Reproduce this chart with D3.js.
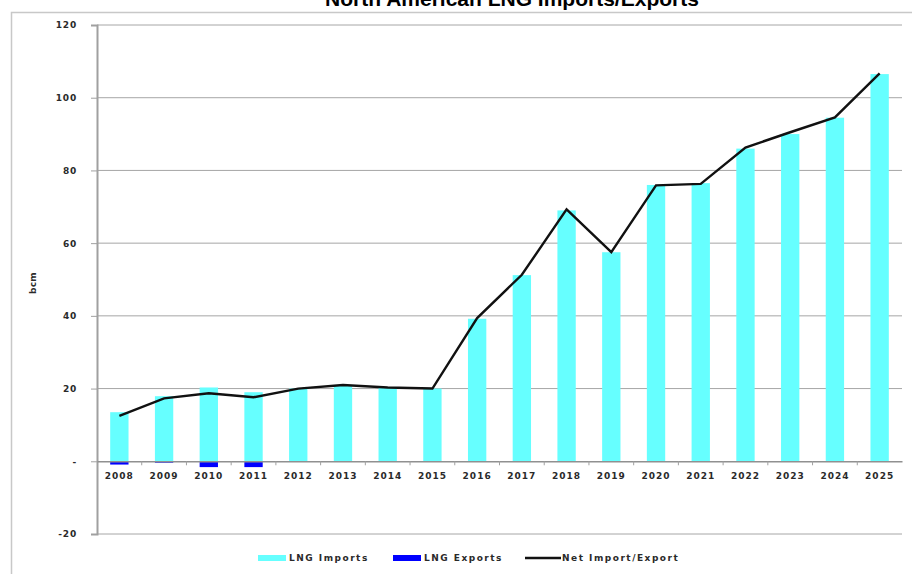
<!DOCTYPE html>
<html>
<head>
<meta charset="utf-8">
<script src="https://d3js.org/d3.v7.min.js"></script>
<style>
  body { margin: 0; background: #fff; }
  svg { display: block; }
</style>
</head>
<body>
<svg id="svg" width="912" height="574"></svg>
<script>
// data (bcm)
var years = ["2008","2009","2010","2011","2012","2013","2014","2015","2016",
             "2017","2018","2019","2020","2021","2022","2023","2024","2025"];
var imports = [13.5, 17.9, 20.3, 19.0, 20.0, 21.0, 20.2, 20.0, 39.2,
               51.2, 69.0, 57.5, 76.0, 76.5, 86.0, 90.0, 94.5, 106.5];
var exports = [-0.9, -0.4, -1.6, -1.6, 0, 0, 0, 0, 0,
               0, 0, 0, 0, 0, 0, 0, 0, 0];
var net = [12.5, 17.3, 18.7, 17.6, 20.0, 21.0, 20.3, 20.0, 39.4,
           51.3, 69.3, 57.5, 75.9, 76.3, 86.3, 90.5, 94.6, 106.7];
var yTicks = [-20, 0, 20, 40, 60, 80, 100, 120];
var legendItems = ["LNG Imports", "LNG Exports", "Net Import/Export"];

var svg = d3.select("#svg");
// note: "top" is taken by window.top, so use plot* names
var plotLeft = 97, plotRight = 902, plotTop = 25, plotBottom = 534;
var labelFont = "'DejaVu Sans', Verdana, sans-serif";

function styleLabel(sel, spacing) {
  sel.style("font-family", labelFont)
    .style("font-size", "9px")
    .style("font-weight", "bold")
    .style("letter-spacing", spacing + "px")
    .attr("fill", "#2a2a2a");
}

// outer chart border (only top and left are in frame)
svg.append("path")
  .attr("d", "M11.5,574 V12.5 H912")
  .attr("fill", "none")
  .attr("stroke", "#c8c8c8")
  .attr("stroke-width", 1.5);

// title, mostly cropped off the top
svg.append("text")
  .attr("x", 512)
  .attr("y", 6)
  .attr("text-anchor", "middle")
  .style("font-family", "'Liberation Sans', Arial, sans-serif")
  .style("font-weight", "bold")
  .style("font-size", "21px")
  .text("North American LNG Imports/Exports");

var x = d3.scaleBand().domain(years).range([plotLeft, plotRight]).paddingInner(0).paddingOuter(0);
var y = d3.scaleLinear().domain([-20, 120]).range([plotBottom, plotTop]);
var barW = x.bandwidth() * 0.41;

// gridlines
svg.append("g")
  .selectAll("line")
  .data(yTicks.filter(function(d) { return d !== 0; }))
  .enter().append("line")
  .attr("x1", plotLeft).attr("x2", plotRight)
  .attr("y1", function(d) { return y(d); })
  .attr("y2", function(d) { return y(d); })
  .attr("stroke", "#a6a6a6")
  .attr("stroke-width", 1);

// y axis
var yAxis = d3.axisLeft(y)
  .tickValues(yTicks)
  .tickSize(6)
  .tickPadding(14)
  .tickFormat(function(d) { return d === 0 ? "-" : d; });
var gy = svg.append("g").attr("transform", "translate(" + plotLeft + ",0)").call(yAxis);
gy.select(".domain").attr("stroke", "#a0a0a0").attr("stroke-width", 2);
gy.selectAll(".tick line").attr("stroke", "#a0a0a0");
gy.selectAll("text").call(styleLabel, 0.8);

svg.append("text")
  .attr("transform", "translate(36,283) rotate(-90)")
  .attr("text-anchor", "middle")
  .call(styleLabel, 0.3)
  .text("bcm");

// bars
svg.append("g").selectAll("rect")
  .data(imports)
  .enter().append("rect")
  .attr("x", function(d, i) { return x(years[i]) + (x.bandwidth() - barW) / 2; })
  .attr("y", function(d) { return y(d); })
  .attr("width", barW)
  .attr("height", function(d) { return y(0) - y(d); })
  .attr("fill", "#66ffff");

svg.append("g").selectAll("rect")
  .data(exports)
  .enter().append("rect")
  .attr("x", function(d, i) { return x(years[i]) + (x.bandwidth() - barW) / 2; })
  .attr("y", y(0))
  .attr("width", barW)
  .attr("height", function(d) { return y(d) - y(0); })
  .attr("fill", "#0000ff");

// x axis on zero
var xAxis = d3.axisBottom(x).tickSize(0).tickPadding(11);
var gx = svg.append("g").attr("transform", "translate(0," + y(0) + ")").call(xAxis);
gx.select(".domain").attr("stroke", "#909090").attr("stroke-width", 1.5);
gx.selectAll("text").call(styleLabel, 1);
// small ticks between categories
gx.selectAll(".sep")
  .data(years.slice(1))
  .enter().append("line")
  .attr("class", "sep")
  .attr("x1", function(d) { return x(d); })
  .attr("x2", function(d) { return x(d); })
  .attr("y1", 0).attr("y2", 4)
  .attr("stroke", "#a0a0a0");

// net line
var line = d3.line()
  .x(function(d, i) { return x(years[i]) + x.bandwidth() / 2; })
  .y(function(d) { return y(d); });
svg.append("path")
  .datum(net)
  .attr("d", line)
  .attr("fill", "none")
  .attr("stroke", "#111")
  .attr("stroke-width", 2.4);

// legend
var lg = svg.append("g").attr("transform", "translate(0,558)");
var lx = [258, 393, 525];
lg.append("rect").attr("x", lx[0]).attr("y", -3).attr("width", 28).attr("height", 6).attr("fill", "#66ffff");
lg.append("rect").attr("x", lx[1]).attr("y", -3).attr("width", 28).attr("height", 6).attr("fill", "#0000ff");
lg.append("line").attr("x1", lx[2]).attr("x2", lx[2] + 36).attr("y1", 0).attr("y2", 0)
  .attr("stroke", "#111").attr("stroke-width", 2.4);
lg.selectAll("text")
  .data(legendItems)
  .enter().append("text")
  .attr("x", function(d, i) { return lx[i] + (i === 2 ? 37 : 31); })
  .attr("y", 3)
  .call(styleLabel, 1.5)
  .text(function(d) { return d; });
</script>
</body>
</html>
